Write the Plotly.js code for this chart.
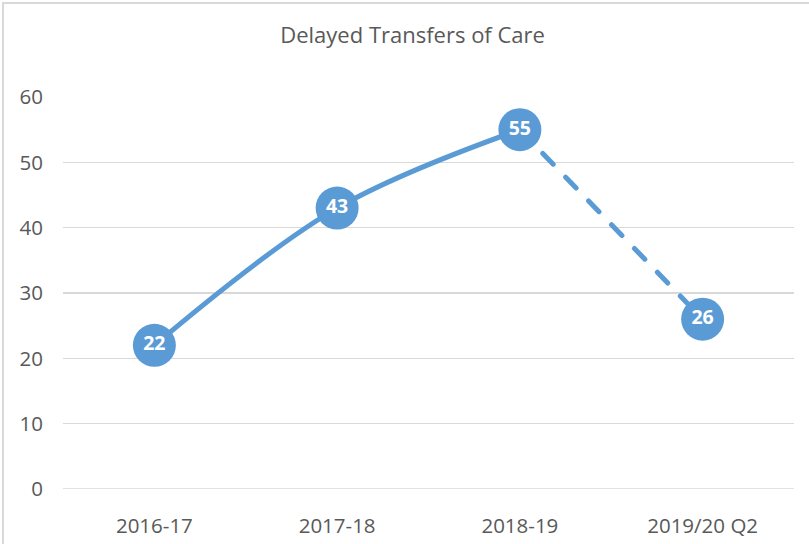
<!DOCTYPE html>
<html><head><meta charset="utf-8">
<script src="https://cdn.plot.ly/plotly-3.0.1.min.js"></script>
<style>
html,body{margin:0;padding:0;background:#fff;}
#wrap{position:relative;width:809px;height:544px;overflow:hidden;}
#frame{position:absolute;left:2px;top:2px;width:900px;height:900px;border-left:2px solid #D9D9D9;border-top:2px solid #D9D9D9;}
#chart{position:absolute;left:0;top:0;width:809px;height:544px;}
#chart .js-line{stroke-linecap:round;}
</style></head>
<body>
<div id="wrap"><div id="frame"></div><div id="chart"></div></div>
<script>
const categories = ["2016-17", "2017-18", "2018-19", "2019/20 Q2"];
const values = [22, 43, 55, 26];
const yTicks = [0, 10, 20, 30, 40, 50, 60];
const titleText = "Delayed Transfers of Care";

const blue = "#5B9BD5";
const font = "Open Sans, Noto Sans, sans-serif";

const solidX = categories.slice(0, 3), solidY = values.slice(0, 3);
const dashX = categories.slice(2), dashY = values.slice(2);

const traces = [
  {x: solidX, y: solidY, type: "scatter", mode: "lines",
   line: {color: blue, width: 5, shape: "spline", smoothing: 1}, hoverinfo: "skip"},
  {x: dashX, y: dashY, type: "scatter", mode: "lines",
   line: {color: blue, width: 5, dash: "15px,18px"}, hoverinfo: "skip"},
  {x: categories, y: values, type: "scatter", mode: "markers+text",
   marker: {color: blue, size: 43}, text: values.map(String),
   textposition: "middle center",
   textfont: {color: "#FFFFFF", size: 19.5, family: font, weight: "bold"}, hoverinfo: "skip"}
];

const layout = {
  width: 809, height: 544,
  margin: {l: 63, r: 15, t: 97, b: 55},
  paper_bgcolor: "rgba(0,0,0,0)", plot_bgcolor: "rgba(0,0,0,0)",
  showlegend: false,
  title: {text: titleText, x: 0.51, xanchor: "center", y: 0.935, yanchor: "middle",
          font: {family: font, size: 22, color: "#595959"}},
  xaxis: {type: "category", range: [-0.5, 3.5], showgrid: false, zeroline: false,
          showline: false, ticks: "", ticklabelstandoff: 22,
          tickfont: {family: font, size: 20.5, color: "#595959"}},
  yaxis: {range: [0, 60], tickvals: yTicks, showgrid: true, gridcolor: "#D9D9D9", gridwidth: 1.5,
          zeroline: false, showline: false, ticks: "", ticklabelstandoff: 19,
          tickfont: {family: font, size: 20.5, color: "#595959"}},
  shapes: [{type: "line", xref: "paper", yref: "y", x0: 0, x1: 1, y0: 0, y1: 0,
            line: {color: "#D9D9D9", width: 1.5}, layer: "below"}]
};

Plotly.newPlot("chart", traces, layout, {displayModeBar: false, staticPlot: true});
</script>
</body></html>
